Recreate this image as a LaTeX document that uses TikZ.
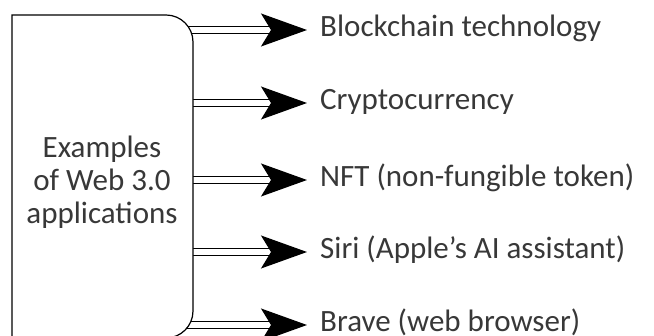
\documentclass[tikz,border=0pt]{standalone}
\usepackage{fontspec}
\setmainfont{Carlito}
\usetikzlibrary{arrows.meta}
\tikzset{
  appfont/.style={font=\fontsize{31pt}{33pt}\selectfont, text=black!78},
  dblarrow/.style={draw=black, line width=1.2pt, double=white, double distance=6pt,
    -{Stealth[length=46pt, width=33pt, inset=10pt]}},
  exlabel/.style={appfont, anchor=west, inner xsep=13pt, inner ysep=0pt,
    text height=20pt, text depth=6pt},
}
\begin{document}
\begin{tikzpicture}[x=1pt, y=-1pt]
\useasboundingbox (0,0) rectangle (654,336);
\coordinate (boxnw) at (12,15);
\coordinate (boxse) at (193,338);

\foreach \y/\txt [count=\i] in {30/Blockchain technology, 103/Cryptocurrency,
  180/NFT (non-fungible token), 252/Siri (Apple’s AI assistant), 325/Brave (web browser)}
  \node[exlabel] (ex\i) at (307,\y) {\txt};

\foreach \i in {1,...,5}
  \draw[dblarrow] (boxnw |- ex\i.west) -- (ex\i.west);

\draw[line width=1.2pt, fill=white] (boxnw |- boxse) -- (boxnw) -- ([xshift=-40pt]boxnw -| boxse)
  [rounded corners=27pt] -- (boxnw -| boxse) -- (boxse) -- (boxnw |- boxse);

\node[appfont, align=center] (apps) at (102,182) {Examples\\of Web 3.0\\applications};
\end{tikzpicture}
\end{document}
